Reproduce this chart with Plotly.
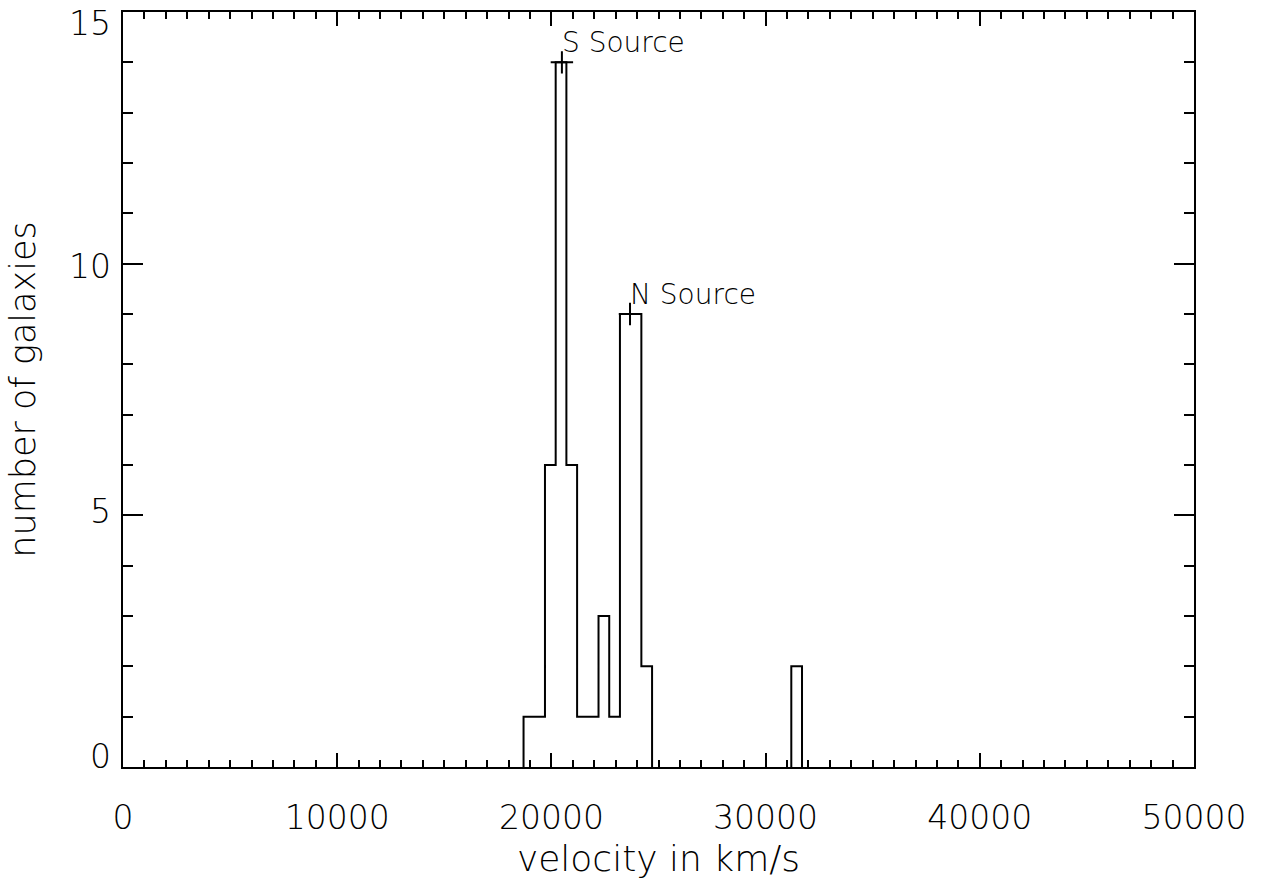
import plotly.graph_objects as go

# Histogram data (bin width 500 km/s)
bin_left_edges = [18700, 19200, 19700, 20200, 20700, 21200, 21700, 22200, 22700,
                  23200, 23700, 24200, 24700, 25200, 25700, 26200, 26700, 27200,
                  27700, 28200, 28700, 29200, 29700, 30200, 30700, 31200]
counts = [1, 1, 6, 14, 6, 1, 1, 3, 1, 9, 9, 2, 0, 0, 0, 0, 0, 0, 0, 0, 0, 0, 0, 0, 0, 2]
bin_width = 500

# Source markers
source_names = ["S Source", "N Source"]
source_vel = [20490, 23670]
source_count = [14, 9]

x_ticks = [0, 10000, 20000, 30000, 40000, 50000]
y_ticks = [0, 5, 10, 15]

FONT = "DejaVu Sans"
WEIGHT = 200
# pixel nudges of the y tick labels (IDL-style placement)
y_label_shift = {0: 11, 5: 4, 10: -2.5, 15: -11.5}

# build step outline, breaking at runs of empty bins
xs, ys = [], []
seg = []
for left, c in zip(bin_left_edges + [None], counts + [0]):
    if left is not None and c > 0:
        seg.append((left, c))
    elif seg:
        xs += [seg[0][0]] + [s[0] for s in seg] + [seg[-1][0] + bin_width, None]
        ys += [0] + [s[1] for s in seg] + [0, None]
        seg = []

fig = go.Figure()
fig.add_trace(go.Scatter(x=xs, y=ys, mode="lines", connectgaps=False,
                         line=dict(shape="hv", color="black", width=2),
                         hoverinfo="skip", showlegend=False))
fig.add_trace(go.Scatter(x=source_vel, y=source_count, mode="markers",
                         marker=dict(symbol="cross-thin", size=16, line=dict(color="black", width=2)),
                         showlegend=False))
for name, xv, yv in zip(source_names, source_vel, source_count):
    fig.add_annotation(x=xv, y=yv, text=name, showarrow=False, xanchor="left", yanchor="middle",
                       xshift=-2, yshift=20,
                       font=dict(family=FONT, size=28, color="black", weight=WEIGHT))

for v in y_ticks:
    fig.add_annotation(xref="paper", x=0, y=v, text=str(v), showarrow=False,
                       xanchor="right", yanchor="middle", xshift=-10, yshift=y_label_shift[v],
                       font=dict(family=FONT, size=33, color="black", weight=WEIGHT))

fig.update_layout(
    width=1267, height=882,
    margin=dict(l=123, r=73, t=10, b=112),
    paper_bgcolor="white", plot_bgcolor="white",
    font=dict(family=FONT, color="black", weight=WEIGHT),
)
fig.update_xaxes(
    range=[0, 50000], tickvals=x_ticks, ticktext=[str(v) for v in x_ticks],
    ticks="inside", ticklen=14, tickwidth=2, tickcolor="black",
    minor=dict(ticks="inside", dtick=1000, ticklen=7, tickwidth=2, tickcolor="black", showgrid=False),
    showline=True, linecolor="black", linewidth=2, mirror="allticks",
    showgrid=False, zeroline=False,
    tickfont=dict(family=FONT, size=33, weight=WEIGHT), ticklabelstandoff=20,
    title=dict(text="velocity in km/s", font=dict(family=FONT, size=36, weight=WEIGHT), standoff=10),
)
fig.update_yaxes(
    range=[0, 15], tickvals=y_ticks, showticklabels=False,
    ticks="inside", ticklen=20, tickwidth=2, tickcolor="black",
    minor=dict(ticks="inside", dtick=1, ticklen=10, tickwidth=2, tickcolor="black", showgrid=False),
    showline=True, linecolor="black", linewidth=2, mirror="allticks",
    showgrid=False, zeroline=False,
    title=dict(text="number of galaxies", font=dict(family=FONT, size=35, weight=WEIGHT), standoff=75),
)

fig.write_html("out.html")
